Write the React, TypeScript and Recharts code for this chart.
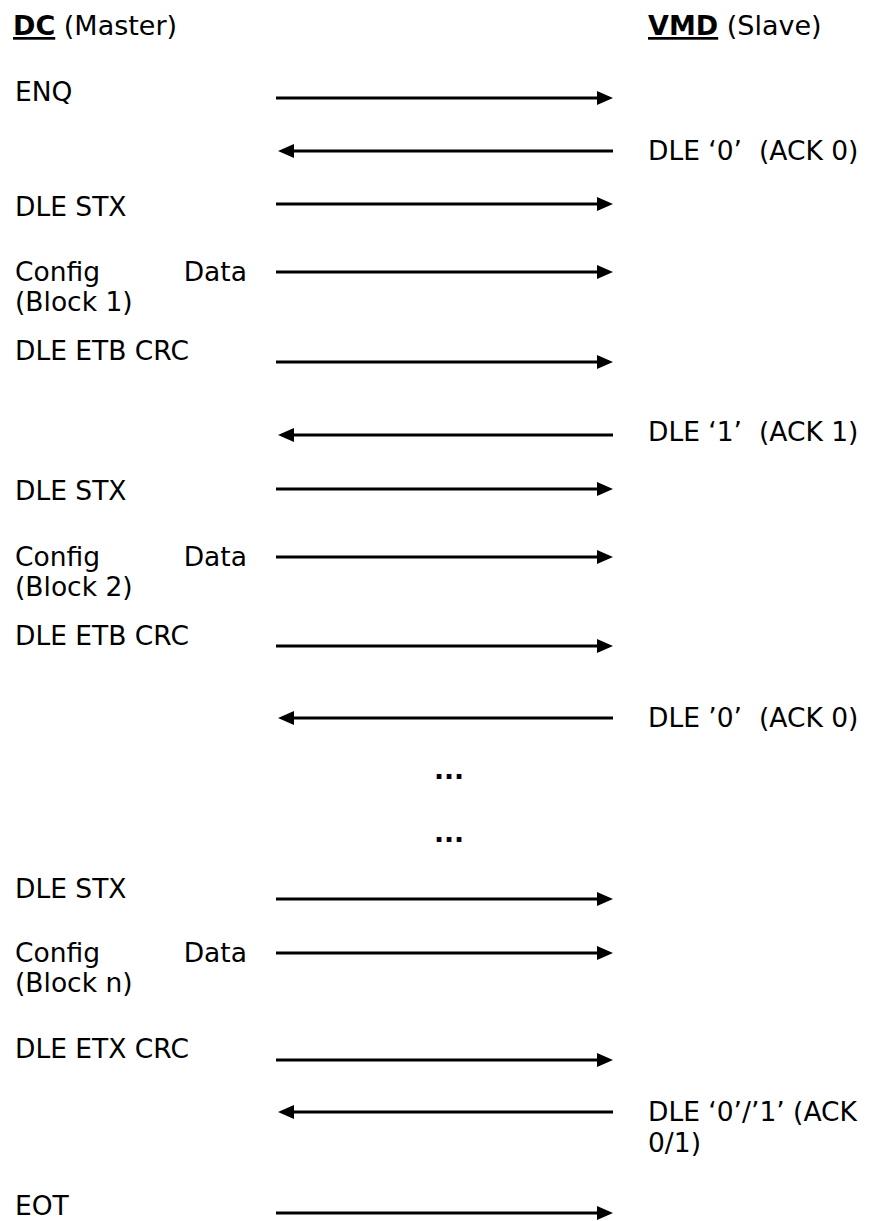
import { ComposedChart, ReferenceLine, Scatter, XAxis, YAxis } from "recharts";

// Page / diagram size
const WIDTH = 869;
const HEIGHT = 1221;
const FONT = "'DejaVu Sans', Verdana, sans-serif";

// Lifeline positions on the horizontal axis
const DC_X = 276;
const VMD_X = 613;

// Message sequence: position on the time axis and direction
const messageT = [98, 151, 204, 272, 362, 435, 489, 557, 646, 718, 899, 953, 1060, 1112, 1213];
const messageDir = ["r", "l", "r", "r", "r", "l", "r", "r", "r", "l", "r", "r", "r", "l", "r"];

// Master side labels (text, time, justify end?)
const leftText = [
  "ENQ",
  "DLE STX",
  "Config", "Data", "(Block 1)",
  "DLE ETB CRC",
  "DLE STX",
  "Config", "Data", "(Block 2)",
  "DLE ETB CRC",
  "DLE STX",
  "Config", "Data", "(Block n)",
  "DLE ETX CRC",
  "EOT",
];
const leftT = [101, 216, 281, 281, 311, 360, 500, 566, 566, 596, 645, 898, 962, 962, 992, 1058, 1215];
const leftEnd = [0, 0, 0, 1, 0, 0, 0, 0, 1, 0, 0, 0, 0, 1, 0, 0, 0];

// Slave side labels
const rightText = [
  "DLE \u20180\u2019  (ACK 0)",
  "DLE \u20181\u2019  (ACK 1)",
  "DLE \u20190\u2019  (ACK 0)",
  "DLE \u20180\u2019/\u20191\u2019 (ACK",
  "0/1)",
];
const rightT = [160, 441, 727, 1121, 1152];

// Ellipsis marks between blocks
const gapT = [779, 842];

const LEFT_X = 15;
const JUSTIFY_X = 247;
const RIGHT_X = 648;
const MID_X = 449;

const leftData = leftText.map((text, i) => ({
  x: leftEnd[i] ? JUSTIFY_X : LEFT_X,
  y: leftT[i],
  text,
  anchor: leftEnd[i] ? "end" : "start",
}));
const rightData = rightText.map((text, i) => ({ x: RIGHT_X, y: rightT[i], text, anchor: "start" }));
const gapData = gapT.map((y) => ({ x: MID_X, y, text: "...", anchor: "middle", bold: true }));

function LabelShape(props: any) {
  const { cx, cy, payload } = props;
  return (
    <text
      x={cx}
      y={cy}
      textAnchor={payload.anchor}
      fontFamily={FONT}
      fontSize={26.5}
      fontWeight={payload.bold ? "bold" : "normal"}
      fill="#000"
      style={{ whiteSpace: "pre" }}
    >
      {payload.text}
    </text>
  );
}

function ArrowShape(props: any) {
  const { x1, y1, x2, y2 } = props;
  const dir = x2 > x1 ? 1 : -1;
  const head = 16;
  const half = 7;
  const baseX = x2 - dir * head;
  return (
    <g>
      <line x1={x1} y1={y1} x2={baseX} y2={y2} stroke="#000" strokeWidth={2.8} />
      <polygon points={`${x2},${y2} ${baseX},${y2 - half} ${baseX},${y2 + half}`} fill="#000" />
    </g>
  );
}

function Header({ x, bold, rest }: { x: number; bold: string; rest: string }) {
  return (
    <text x={x} y={35} fontFamily={FONT} fontSize={27} fill="#000">
      <tspan fontWeight="bold" textDecoration="underline">
        {bold}
      </tspan>
      <tspan> {rest}</tspan>
    </text>
  );
}

export default function App() {
  return (
    <div style={{ width: WIDTH, height: HEIGHT, background: "#fff" }}>
      <style>{"body{margin:0}"}</style>
      <ComposedChart width={WIDTH} height={HEIGHT} margin={{ top: 0, right: 0, bottom: 0, left: 0 }}>
        <XAxis type="number" dataKey="x" domain={[0, WIDTH]} hide />
        <YAxis type="number" dataKey="y" domain={[0, HEIGHT]} reversed hide />
        {messageT.map((t, i) => {
          const from = messageDir[i] === "r" ? DC_X : VMD_X;
          const to = messageDir[i] === "r" ? VMD_X : DC_X + 2;
          return (
            <ReferenceLine
              key={i}
              segment={[
                { x: from, y: t },
                { x: to, y: t },
              ]}
              shape={ArrowShape}
            />
          );
        })}
        <Scatter data={leftData} shape={LabelShape} isAnimationActive={false} />
        <Scatter data={rightData} shape={LabelShape} isAnimationActive={false} />
        <Scatter data={gapData} shape={LabelShape} isAnimationActive={false} />
        <Header x={13} bold="DC" rest="(Master)" />
        <Header x={648} bold="VMD" rest="(Slave)" />
      </ComposedChart>
    </div>
  );
}
